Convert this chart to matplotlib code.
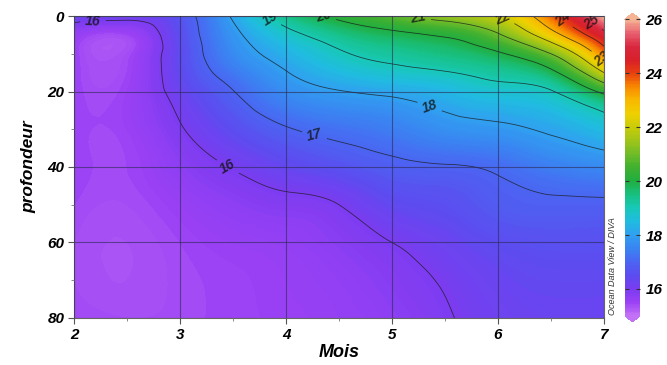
import numpy as np
import matplotlib.pyplot as plt
import matplotlib.tri as mtri
from matplotlib.colors import LinearSegmentedColormap

# grid of the section: months (x) and depth in m (y)
mois = np.array([2, 2.5, 3, 3.5, 4, 4.5, 5, 5.5, 6, 6.5, 7])
profondeur = np.array([0, 5, 10, 15, 20, 30, 40, 50, 60, 70, 80])

# temperature profiles, one list per month (surface -> 80 m)
t_m2_0 = [16.3, 15.6, 15.5, 15.5, 15.5, 15.5, 15.5, 15.45, 15.4, 15.4, 15.45]
t_m2_5 = [16.25, 15.45, 15.4, 15.45, 15.5, 15.5, 15.45, 15.4, 15.35, 15.35, 15.4]
t_m3_0 = [16.65, 16.5, 16.45, 16.4, 16.25, 15.95, 15.72, 15.55, 15.45, 15.42, 15.42]
t_m3_5 = [18.1, 17.8, 17.6, 17.3, 16.98, 16.5, 16.03, 15.72, 15.55, 15.48, 15.48]
t_m4_0 = [19.4, 18.75, 18.3, 17.97, 17.65, 16.95, 16.35, 15.85, 15.62, 15.55, 15.52]
t_m4_5 = [20.2, 19.4, 18.9, 18.45, 17.97, 17.2, 16.6, 16.0, 15.77, 15.65, 15.6]
t_m5_0 = [20.75, 19.8, 19.25, 18.75, 18.15, 17.4, 16.85, 16.4, 16.0, 15.82, 15.72]
t_m5_5 = [21.4, 20.1, 19.5, 18.95, 18.4, 17.7, 16.95, 16.55, 16.25, 16.05, 15.95]
t_m6_0 = [22.0, 20.9, 19.9, 19.25, 18.7, 17.85, 17.1, 16.8, 16.5, 16.3, 16.2]
t_m6_5 = [23.7, 22.6, 21.0, 19.8, 18.95, 18.1, 17.4, 16.9, 16.6, 16.4, 16.3]
t_m7_0 = [26.0, 24.7, 23.5, 22.0, 20.2, 18.5, 17.6, 16.9, 16.6, 16.4, 16.3]

temp = np.array([t_m2_0, t_m2_5, t_m3_0, t_m3_5, t_m4_0, t_m4_5,
                 t_m5_0, t_m5_5, t_m6_0, t_m6_5, t_m7_0]).T

cbar_ticks = [16, 18, 20, 22, 24, 26]
iso_levels = np.arange(16, 26)

# ODV-like rainbow
stops = [(15.0, '#c272f5'), (15.5, '#9a40f5'), (16.0, '#7a3cf0'), (16.5, '#5c4cf0'),
         (17.0, '#4a66f2'), (17.5, '#3a84f2'), (18.0, '#30a0f0'), (18.5, '#20bce0'),
         (19.0, '#18c8b8'), (19.5, '#18c080'), (20.0, '#20ae40'), (20.5, '#40b030'),
         (21.0, '#70bc28'), (21.5, '#a0c418'), (22.0, '#c8cc08'), (22.5, '#f0d000'),
         (23.0, '#f8b800'), (23.5, '#f88a00'), (24.0, '#e84010'), (24.5, '#d82028'),
         (25.0, '#d82840'), (25.5, '#e86070'), (26.0, '#f5b595')]
vmin, vmax = 15, 26
odv = LinearSegmentedColormap.from_list(
    'odv', [((v - vmin) / (vmax - vmin), c) for v, c in stops])

font = dict(family='Liberation Sans', weight='bold', style='italic')

fig = plt.figure(figsize=(6.67, 3.65), dpi=100)
ax = fig.add_axes([0.111, 0.129, 0.7945, 0.827])

# smooth the gridded field with a cubic refinement (depth scaled for isotropy)
MM, DD = np.meshgrid(mois, profondeur)
zscale = 16.0
tri = mtri.Triangulation(MM.ravel(), DD.ravel() / zscale)
interp = mtri.CubicTriInterpolator(tri, temp.ravel(), kind='min_E')
tri_f, t_f = mtri.UniformTriRefiner(tri).refine_field(temp.ravel(), interp, subdiv=4)
tri_p = mtri.Triangulation(tri_f.x, tri_f.y * zscale, tri_f.triangles)

fill = ax.tricontourf(tri_p, t_f, levels=np.linspace(vmin, vmax, 221),
                      cmap=odv, vmin=vmin, vmax=vmax, extend='both')
cs = ax.tricontour(tri_p, t_f, levels=iso_levels, colors='#1a1a1a',
                   linewidths=0.6, alpha=0.75)
label_pos = [(2.18, 2.0), (3.45, 40), (4.27, 31.5), (5.36, 23.6), (3.85, 0.5),
             (4.33, 0.3), (5.25, 0.3), (6.05, 0.3), (6.97, 11.7), (6.62, 0.5),
             (6.85, 3.0)]
labels = ax.clabel(cs, fmt='%d', manual=label_pos, inline=True, inline_spacing=4,
                   fontsize=10, colors='#111111')
for t in labels:
    t.set_fontfamily('Liberation Sans')
    t.set_fontweight('bold')
    t.set_fontstyle('italic')
    t.set_clip_on(True)
    t.set_clip_path(ax.patch)

ax.set_xlim(2, 7)
ax.set_ylim(80, 0)
ax.set_xticks([2, 3, 4, 5, 6, 7])
ax.set_xticks(np.arange(2.5, 7, 1), minor=True)
ax.set_yticks([0, 20, 40, 60, 80])
ax.set_yticks([10, 30, 50, 70], minor=True)
ax.grid(True, which='major', color='#2a2a50', linewidth=0.8, alpha=0.6)
ax.set_axisbelow(False)
ax.tick_params(which='major', length=4, width=0.8, color='#555555', pad=3)
ax.tick_params(which='minor', length=2.5, width=0.6, color='#777777')
for lab in ax.get_xticklabels() + ax.get_yticklabels():
    lab.set(fontsize=11, **font)
for sp in ax.spines.values():
    sp.set_color('#666666')
    sp.set_linewidth(0.8)

ax.set_xlabel('Mois', fontsize=13, labelpad=2, **font)
ax.set_ylabel('profondeur', fontsize=12.5, labelpad=8, **font)

cax = fig.add_axes([0.937, 0.118, 0.0225, 0.846])
cb = fig.colorbar(fill, cax=cax, extend='both', extendfrac=0.02, ticks=cbar_ticks)
cb.outline.set_visible(False)
cax.tick_params(direction='in', length=3, width=0.8, color='#333333',
                left=True, right=True, pad=4)
for lab in cax.get_yticklabels():
    lab.set(fontsize=11, **font)

fig.text(0.918, 0.137, 'Ocean Data View / DIVA', rotation=90, fontsize=6.5,
         style='italic', color='#333333', ha='center', va='bottom',
         family='Liberation Sans')

fig.savefig('out.png', dpi=100)
